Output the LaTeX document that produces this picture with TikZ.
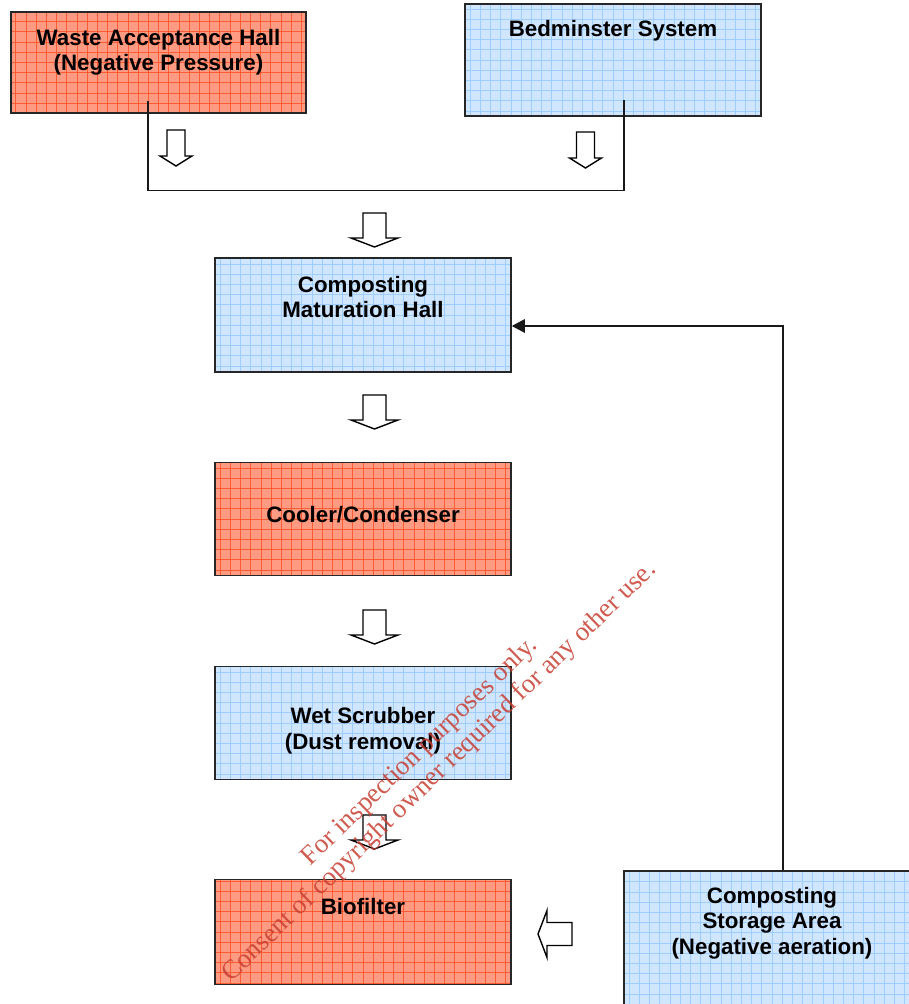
\documentclass[tikz,border=0pt]{standalone}
\usepackage{fontspec}
\setmainfont{Liberation Sans}
\newfontfamily\wmfont{Liberation Serif}
\usepackage{tikz}
\usetikzlibrary{arrows.meta}
\definecolor{redfill}{RGB}{255,155,130}
\definecolor{redgrid}{RGB}{255,92,52}
\definecolor{bluefill}{RGB}{208,230,255}
\definecolor{bluegrid}{RGB}{158,205,255}
\definecolor{wmred}{RGB}{200,62,50}
\tikzstyle{redbox} = [rectangle, minimum width=5.92cm, draw=black!85,
line width=0.9pt, fill=redfill, path picture={\draw[redgrid, line width=0.45pt]
(path picture bounding box.south west) grid[step=0.204cm]
(path picture bounding box.north east);}]
\tikzstyle{bluebox} = [rectangle, minimum width=5.92cm, draw=black!85,
line width=0.9pt, fill=bluefill, path picture={\draw[bluegrid, line width=0.45pt]
(path picture bounding box.south west) grid[step=0.204cm]
(path picture bounding box.north east);}]
\tikzstyle{boxtext} = [align=center, inner sep=0pt,
font=\bfseries\fontsize{12.7}{14.5}\selectfont]
\tikzstyle{link} = [line width=0.8pt, draw=black!90]
\tikzstyle{arrow} = [link, -{Triangle[length=0.26cm, width=0.27cm]}]
\tikzset{
  bigdown/.pic={\draw[line width=0.8pt, fill=white] (0,0) -- (0.47,0.18) --
    (0.23,0.18) -- (0.23,0.68) -- (-0.23,0.68) -- (-0.23,0.18) --
    (-0.47,0.18) -- cycle;},
  smalldown/.pic={\draw[line width=0.8pt, fill=white] (0,0) -- (0.32,0.2) --
    (0.18,0.2) -- (0.18,0.72) -- (-0.18,0.72) -- (-0.18,0.2) --
    (-0.32,0.2) -- cycle;}
}
\begin{document}
\begin{tikzpicture}[node distance=4.08cm]
\useasboundingbox (0,0) rectangle (18.18,20.08);

\node(wah)[redbox, minimum width=5.9cm, minimum height=2.02cm] at (3.17,18.83){};
\node(bed)[bluebox, minimum height=2.24cm] at (12.26,18.88){};

\node(cmh)[bluebox, minimum height=2.28cm] at (7.26,13.78){};
\node(cool)[redbox, minimum height=2.26cm, below of=cmh]{};
\node(wet)[bluebox, minimum height=2.26cm, below of=cool]{};
\node(bio)[redbox, minimum height=2.1cm, below of=wet, yshift=-0.1cm]{};
\node(csa)[bluebox, minimum height=2.88cm] at (15.44,1.22){};

% box texts
\node(wahText)[boxtext] at ([yshift=-0.82cm]wah.north){Waste Acceptance Hall\\
(Negative Pressure)};
\node(bedText)[boxtext] at ([yshift=-0.55cm]bed.north){Bedminster System};
\node(cmhText)[boxtext] at ([yshift=-0.8cm]cmh.north){Composting\\
Maturation Hall};
\node(coolText)[boxtext] at ([yshift=-1.06cm]cool.north){Cooler/Condenser};
\node(wetText)[boxtext] at ([yshift=-1.3cm]wet.north){Wet Scrubber\\
(Dust removal)};
\node(bioText)[boxtext] at ([yshift=-0.56cm]bio.north){Biofilter};
\node(csaText)[boxtext] at ([yshift=-1.06cm]csa.north){Composting\\
Storage Area\\(Negative aeration)};

% connectors
\draw[link]([xshift=-0.21cm, yshift=0.26cm]wah.south) -- ++(0,-1.8)
-| ([xshift=0.22cm, yshift=0.34cm]bed.south);
\draw[arrow]([xshift=0.22cm]csa.north) |- ([yshift=-0.22cm]cmh.east);

% hollow arrows
\pic at (3.52,16.76) {smalldown};
\pic at (11.71,16.72) {smalldown};
\pic at (7.49,15.14) {bigdown};
\pic at (7.49,11.50) {bigdown};
\pic at (7.49,7.20) {bigdown};
\pic at (7.49,3.10) {bigdown};
\pic[rotate=-90] at (10.76,1.40) {bigdown};

% watermark
\node(stamp)[rotate=44, align=center, text=wmred, opacity=0.85,
font=\wmfont\fontsize{15.3}{16.2}\selectfont] at (8.6,4.84){For inspection
purposes only.\\Consent of copyright owner required for any other use.};

\end{tikzpicture}
\end{document}
